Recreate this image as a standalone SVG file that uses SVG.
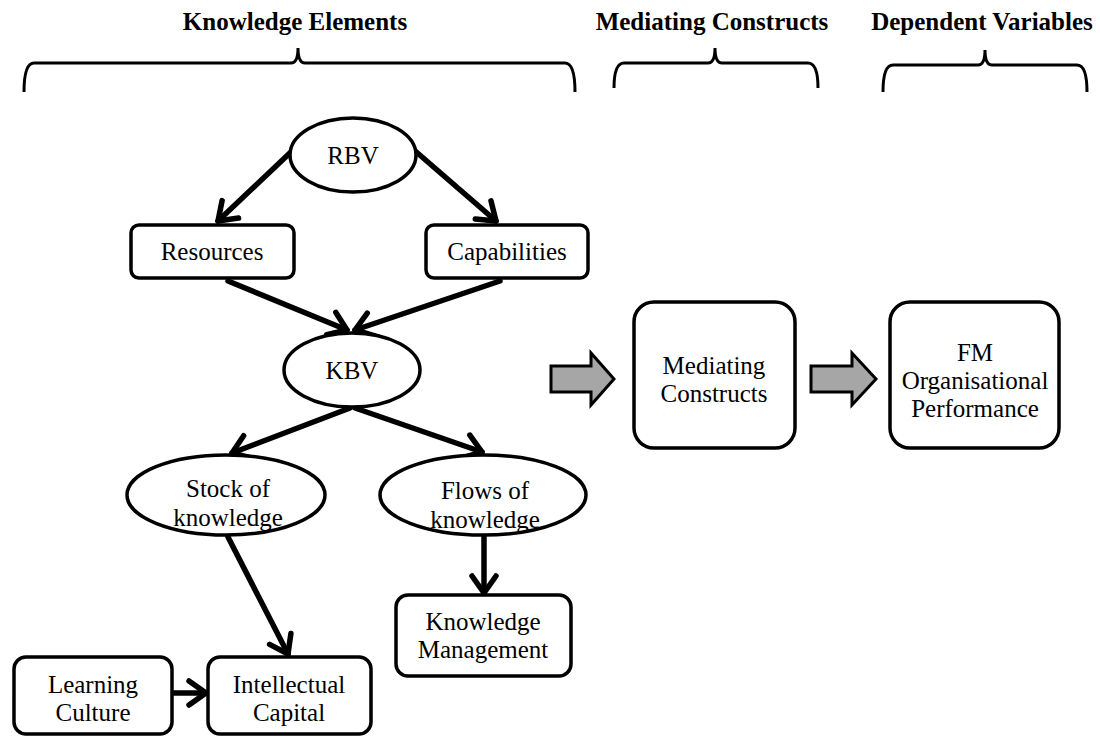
<svg xmlns="http://www.w3.org/2000/svg" width="1100" height="738" viewBox="0 0 1100 738">
<style>
.t{font-family:"Liberation Serif","Times New Roman",serif;font-size:25px;fill:#000;text-anchor:middle}
.h{font-family:"Liberation Serif","Times New Roman",serif;font-size:25px;font-weight:bold;fill:#000;text-anchor:middle}
.n{fill:#fff;stroke:#000;stroke-width:3.5}
.b{fill:none;stroke:#000;stroke-width:3}
.c{fill:none;stroke:#000;stroke-width:5.5;stroke-linecap:round;stroke-linejoin:round}
.ba{fill:#a6a6a6;stroke:#000;stroke-width:3;stroke-linejoin:miter}
</style>
<defs>
<marker id="ah" markerUnits="userSpaceOnUse" markerWidth="40" markerHeight="40" viewBox="-20 -20 40 40" refX="0" refY="0" orient="auto">
<path d="M-17,-12 L0,0 L-17,12" fill="none" stroke="#000" stroke-width="5.5" stroke-linecap="round" stroke-linejoin="round"/>
</marker>
</defs>
<rect width="1100" height="738" fill="#fff"/>
<g id="headers">
<text class="h" x="295" y="30">Knowledge Elements</text>
<text class="h" x="712" y="30">Mediating Constructs</text>
<text class="h" x="982" y="30">Dependent Variables</text>
<path class="b" d="M24,92 Q24,63 34,63 L291,63 Q298,63 298,48 Q298,63 305,63 L565,63 Q575,63 575,92"/>
<path class="b" d="M614,88 Q614,63 624,63 L708,63 Q715,63 715,48 Q715,63 722,63 L808,63 Q818,63 818,88"/>
<path class="b" d="M883,92 Q883,65 893,65 L978,65 Q985,65 985,50 Q985,65 992,65 L1077,65 Q1087,65 1087,92"/>
</g>
<g id="connectors">
<line class="c" x1="293" y1="150" x2="218" y2="221" marker-end="url(#ah)"/>
<line class="c" x1="414" y1="150" x2="496" y2="221" marker-end="url(#ah)"/>
<line class="c" x1="228" y1="281" x2="347" y2="330" marker-end="url(#ah)"/>
<line class="c" x1="500" y1="281" x2="355" y2="330" marker-end="url(#ah)"/>
<line class="c" x1="350" y1="408" x2="232" y2="453" marker-end="url(#ah)"/>
<line class="c" x1="355" y1="408" x2="482" y2="452" marker-end="url(#ah)"/>
<line class="c" x1="228" y1="537" x2="288" y2="654" marker-end="url(#ah)"/>
<line class="c" x1="484" y1="537" x2="484" y2="593" marker-end="url(#ah)"/>
<line class="c" x1="174" y1="693" x2="206" y2="693" marker-end="url(#ah)"/>
<path class="ba" d="M551,366 L591,366 L591,353 L614,379 L591,405 L591,392 L551,392 Z"/>
<path class="ba" d="M811,366 L852,366 L852,353 L876,379 L852,405 L852,392 L811,392 Z"/>
</g>
<g id="rbv"><ellipse class="n" cx="353" cy="155" rx="63" ry="37"/><text class="t" x="353" y="164">RBV</text></g>
<g id="resources"><rect class="n" x="131" y="225" width="163" height="53" rx="8"/><text class="t" x="212" y="260">Resources</text></g>
<g id="capabilities"><rect class="n" x="426" y="225" width="162" height="53" rx="8"/><text class="t" x="507" y="260">Capabilities</text></g>
<g id="kbv"><ellipse class="n" cx="352" cy="370" rx="68" ry="37"/><text class="t" x="352" y="379">KBV</text></g>
<g id="stock"><ellipse class="n" cx="226" cy="495" rx="99" ry="40"/><text class="t" x="228" y="497">Stock of</text><text class="t" x="228" y="526">knowledge</text></g>
<g id="flows"><ellipse class="n" cx="483" cy="495" rx="103" ry="40"/><text class="t" x="485" y="499">Flows of</text><text class="t" x="485" y="528">knowledge</text></g>
<g id="mediating"><rect class="n" x="634" y="302" width="161" height="146" rx="20"/><text class="t" x="714" y="374">Mediating</text><text class="t" x="714" y="402">Constructs</text></g>
<g id="fm"><rect class="n" x="890" y="302" width="169" height="146" rx="20"/><text class="t" x="975" y="361">FM</text><text class="t" x="975" y="389">Organisational</text><text class="t" x="975" y="417">Performance</text></g>
<g id="km"><rect class="n" x="396" y="595" width="175" height="81" rx="12"/><text class="t" x="483" y="630">Knowledge</text><text class="t" x="483" y="658">Management</text></g>
<g id="learning"><rect class="n" x="14" y="657" width="158" height="77" rx="12"/><text class="t" x="93" y="693">Learning</text><text class="t" x="93" y="721">Culture</text></g>
<g id="intellectual"><rect class="n" x="208" y="657" width="163" height="77" rx="12"/><text class="t" x="289" y="693">Intellectual</text><text class="t" x="289" y="721">Capital</text></g>
</svg>
